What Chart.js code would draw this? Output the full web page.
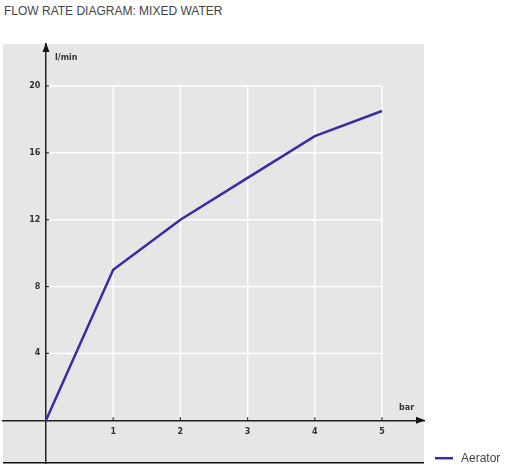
<!DOCTYPE html>
<html>
<head>
<meta charset="utf-8">
<script src="https://cdn.jsdelivr.net/npm/chart.js@4.4.1/dist/chart.umd.min.js"></script>
<style>
  body { margin: 0; background: #fff; }
  #title { position: absolute; left: 4px; top: 4px; font: 12px "Liberation Sans", Arial, sans-serif; color: #444; }
  #wrap { position: absolute; left: 0; top: 0; width: 508px; height: 471px; }
</style>
</head>
<body>
<div id="title">FLOW RATE DIAGRAM: MIXED WATER</div>
<div id="wrap"><canvas id="flowChart"></canvas></div>
<script>
const pressure = [0, 1, 2, 3, 4, 5];
const flowRate = [0, 9, 12, 14.5, 17, 18.5];
const xTicks = [1, 2, 3, 4, 5];
const yTicks = [4, 8, 12, 16, 20];
const seriesName = 'Aerator';

const lineColor = '#3a2ca6';
const tickFont = { family: 'DejaVu Sans', size: 8, weight: 'bold' };

const panelPlugin = {
    id: 'panel',
    beforeDraw(chart) {
        const { ctx, chartArea: a, scales: { x, y } } = chart;
        ctx.save();
        ctx.fillStyle = '#e6e6e6';
        ctx.fillRect(a.left, a.top, a.right - a.left, a.bottom - a.top);

        // white grid, only inside the data range
        ctx.strokeStyle = '#ffffff';
        ctx.lineWidth = 1.5;
        const x0 = x.getPixelForValue(0), x5 = x.getPixelForValue(xTicks[xTicks.length - 1]);
        const y0 = y.getPixelForValue(0), y20 = y.getPixelForValue(yTicks[yTicks.length - 1]);
        xTicks.forEach(v => {
            const px = x.getPixelForValue(v);
            ctx.beginPath(); ctx.moveTo(px, y20); ctx.lineTo(px, y0); ctx.stroke();
        });
        yTicks.forEach(v => {
            const py = y.getPixelForValue(v);
            ctx.beginPath(); ctx.moveTo(x0, py); ctx.lineTo(x5, py); ctx.stroke();
        });

        // bottom edge of the panel
        ctx.strokeStyle = '#111';
        ctx.lineWidth = 1.5;
        ctx.beginPath(); ctx.moveTo(a.left, a.bottom - 0.5); ctx.lineTo(a.right, a.bottom - 0.5); ctx.stroke();
        ctx.restore();
    },
    afterDraw(chart) {
        const { ctx, chartArea: a, scales: { x, y } } = chart;
        const x0 = x.getPixelForValue(0), y0 = y.getPixelForValue(0);
        ctx.save();
        ctx.fillStyle = '#111';
        // arrow heads
        ctx.beginPath();
        ctx.moveTo(x0, a.top - 1); ctx.lineTo(x0 - 3.5, a.top + 8); ctx.lineTo(x0 + 3.5, a.top + 8);
        ctx.closePath(); ctx.fill();
        ctx.beginPath();
        ctx.moveTo(a.right + 1, y0); ctx.lineTo(a.right - 8, y0 - 3.5); ctx.lineTo(a.right - 8, y0 + 3.5);
        ctx.closePath(); ctx.fill();

        // small inward tick marks
        ctx.strokeStyle = '#333';
        ctx.lineWidth = 1.2;
        xTicks.forEach(v => {
            const px = x.getPixelForValue(v);
            ctx.beginPath(); ctx.moveTo(px, y0); ctx.lineTo(px, y0 - 3); ctx.stroke();
        });
        yTicks.forEach(v => {
            const py = y.getPixelForValue(v);
            ctx.beginPath(); ctx.moveTo(x0, py); ctx.lineTo(x0 + 3, py); ctx.stroke();
        });

        // axis names
        ctx.fillStyle = '#333';
        ctx.font = 'bold 8px "DejaVu Sans"';
        ctx.textBaseline = 'middle';
        ctx.textAlign = 'left';
        ctx.fillText('l/min', x0 + 9, a.top + 14);
        ctx.fillText('bar', x.getPixelForValue(5) + 17, y0 - 12);

        // legend
        const lx = a.right + 11, ly = a.bottom - 5;
        ctx.strokeStyle = chart.data.datasets[0].borderColor;
        ctx.lineWidth = 2.5;
        ctx.beginPath(); ctx.moveTo(lx, ly); ctx.lineTo(lx + 18, ly); ctx.stroke();
        ctx.fillStyle = '#444';
        ctx.font = '12px "Liberation Sans"';
        ctx.fillText(chart.data.datasets[0].label, lx + 26, ly);
        ctx.restore();
    }
};

new Chart(document.getElementById('flowChart'), {
    type: 'line',
    data: {
        datasets: [{
            label: seriesName,
            data: pressure.map((p, i) => ({ x: p, y: flowRate[i] })),
            borderColor: lineColor,
            backgroundColor: lineColor,
            borderWidth: 2.5,
            pointRadius: 0,
            tension: 0
        }]
    },
    options: {
        responsive: true,
        maintainAspectRatio: false,
        animation: false,
        layout: { padding: { left: 3, top: 44, right: 84, bottom: 7 } },
        plugins: {
            legend: { display: false },
            tooltip: { enabled: false }
        },
        scales: {
            x: {
                type: 'linear',
                position: { y: 0 },
                min: -0.64,
                max: 5.625,
                afterBuildTicks: s => { s.ticks = xTicks.map(v => ({ value: v })); },
                afterFit: s => { s.height = 0; },
                grid: { display: false, tickLength: 4 },
                border: { color: '#222', width: 1.5 },
                ticks: { font: tickFont, color: '#333' }
            },
            y: {
                type: 'linear',
                position: { x: 0 },
                min: -2.567,
                max: 22.507,
                afterBuildTicks: s => { s.ticks = yTicks.map(v => ({ value: v })); },
                afterFit: s => { s.width = 0; },
                grid: { display: false },
                border: { color: '#222', width: 1.5 },
                // labels of an axis placed at a value sit flush on the line, so pad them with spaces
                ticks: { font: tickFont, color: '#333', callback: v => v + '  ' }
            }
        }
    },
    plugins: [panelPlugin]
});
</script>
</body>
</html>
